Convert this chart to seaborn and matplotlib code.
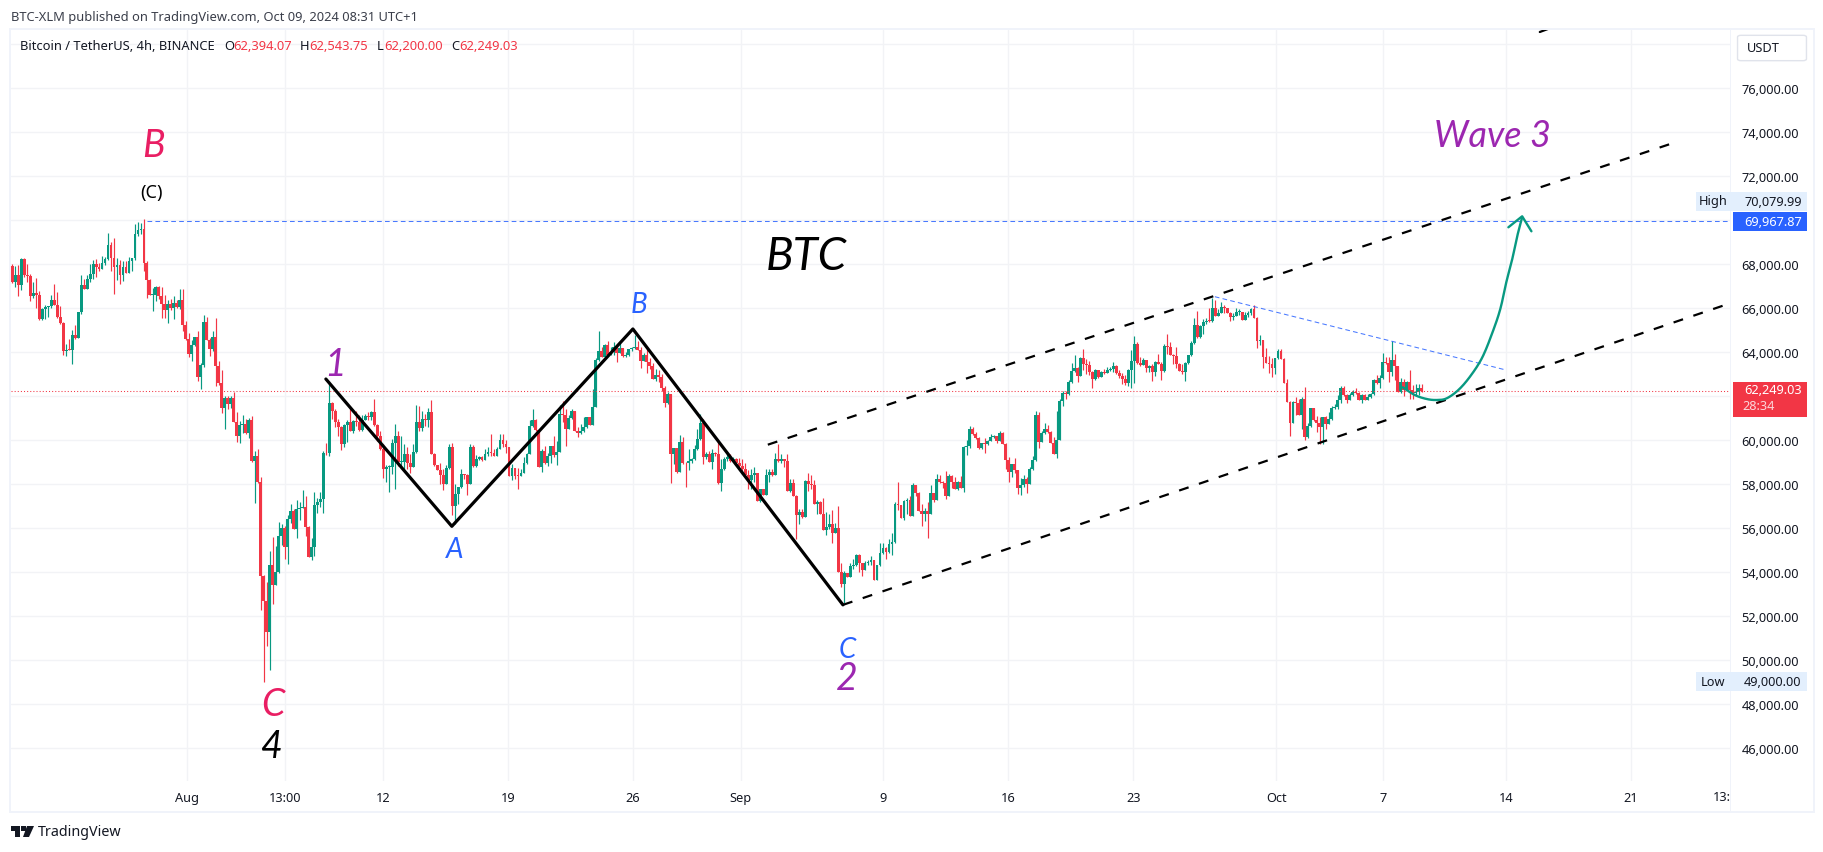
import numpy as np
import pandas as pd
import matplotlib
matplotlib.use("Agg")
import matplotlib.pyplot as plt
from matplotlib.patches import Rectangle, FancyBboxPatch, Polygon
import seaborn as sns

# ---------- values (USD / 10) ----------
first_open = 6793
closes = [
 6720,6752,6708,6824,6752,6749,6658,6670,6661,6552, 6597,6606,6609,6638,6614,6561,6534,6406,6412,6411,
 6479,6465,6584,6706,6688,6734,6756,6802,6788,6779, 6806,6824,6888,6829,6788,6797,6752,6788,6761,6815,
 6829,6938,6956,6961,6806,6729,6661,6661,6697,6656, 6620,6593,6620,6602,6624,6606,6638,6524,6461,6393,
 6434,6470,6288,6343,6538,6456,6415,6470,6338,6261, 6147,6193,6165,6193,6084,6020,6070,6075,6034,6093,
 5906,5929,5811,5384,5269,5129,5434,5343,5400,5565, 5602,5516,5643,5679,5597,5688,5693,5697,5606,5470,
 5516,5706,5720,5734,5943,5940,6170,6135,6082,6062, 5981,6070,6084,6043,6087,6082,6047,6093,6109,6105,
 6129,6070,6018,5961,5870,5878,5880,5988,6020,5900, 5903,5938,5897,5879,5947,6084,6056,6097,6093,6129,
 5938,5887,5865,5844,5802,5874,5970,5702,5756,5788, 5847,5843,5802,5970,5884,5915,5924,5911,5938,5947,
 5943,5929,5961,6002,5984,5968,5838,5874,5838,5836, 5853,5897,5938,6065,6093,6047,5879,5952,5897,5929,
 5974,5934,5947,6120,6115,6052,6102,6134,6043,6032, 6043,6061,6106,6070,6152,6364,6406,6379,6432,6388,
 6400,6424,6397,6420,6383,6388,6415,6418,6424,6411, 6362,6388,6356,6336,6279,6297,6288,6238,6170,6211,
 5938,5965,5856,5992,5897,5895,5906,5915,5961,6006, 6079,5924,5938,5902,5942,5938,5806,5870,5915,5923,
 5906,5915,5897,5883,5870,5843,5820,5843,5852,5724, 5779,5752,5843,5856,5841,5915,5906,5914,5906,5770,
 5806,5747,5661,5674,5652,5815,5802,5797,5711,5720, 5665,5593,5606,5620,5579,5602,5403,5347,5397,5379,
 5429,5434,5479,5443,5411,5443,5447,5455,5365,5434, 5488,5511,5493,5529,5538,5711,5705,5647,5724,5727,
 5656,5797,5761,5679,5665,5679,5665,5761,5729,5824, 5811,5806,5747,5838,5811,5779,5811,5783,5970,5974,
 6052,6029,6011,5965,5988,5983,5997,6015,6020,5997, 6033,5983,5911,5856,5893,5865,5783,5797,5824,5802,
 5870,5911,6115,5993,6033,6052,6038,5988,5938,6003, 6179,6215,6211,6265,6315,6329,6293,6374,6347,6343,
 6309,6279,6320,6288,6311,6306,6320,6324,6338,6306, 6293,6279,6261,6320,6361,6438,6352,6343,6365,6329,
 6336,6311,6356,6347,6315,6429,6424,6388,6383,6347, 6315,6312,6352,6388,6443,6524,6468,6520,6538,6543,
 6541,6602,6565,6579,6606,6600,6580,6561,6565,6582, 6583,6547,6570,6579,6597,6556,6452,6456,6379,6352,
 6347,6329,6374,6406,6371,6261,6174,6079,6174,6170, 6115,6188,6015,6065,6147,6093,6079,6061,6106,6074,
 6097,6147,6150,6183,6238,6206,6183,6206,6220,6215, 6183,6206,6183,6197,6211,6274,6261,6283,6356,6352,
 6311,6365,6338,6220,6265,6229,6265,6229,6215,6218, 6239,6225]
highs = [
 6802,6793,6797,6829,6829,6802,6756,6718,6738,6678, 6600,6615,6609,6661,6711,6674,6611,6538,6438,6461,
 6502,6524,6584,6752,6734,6752,6802,6820,6824,6806, 6838,6834,6943,6902,6920,6829,6820,6815,6814,6835,
 6829,6984,6993,6988,7008,6815,6734,6693,6702,6702, 6697,6661,6638,6643,6656,6638,6688,6688,6541,6488,
 6456,6470,6497,6352,6570,6561,6465,6497,6556,6361, 6320,6202,6202,6202,6220,6129,6088,6115,6097,6102,
 6111,5952,5961,5834,5388,5355,5497,5561,5520,5629, 5620,5611,5661,5711,5688,5729,5720,5775,5747,5611,
 5556,5765,5738,5765,5952,5988,6271,6176,6140,6097, 6067,6074,6093,6152,6090,6134,6115,6114,6118,6127,
 6134,6188,6074,6040,5984,5888,5888,6006,6074,6043, 6018,5984,5968,5938,5984,6161,6156,6134,6120,6147,
 6184,5943,5888,5897,5870,5888,5984,5988,5802,5788, 5870,5847,5847,5984,5979,5934,5929,5929,5961,5970,
 6029,5961,5970,6029,6029,6002,5970,5893,5874,5873, 5870,5924,5943,6093,6143,6097,6052,5961,5974,5943,
 5974,6020,5997,6161,6179,6143,6115,6143,6134,6061, 6074,6106,6106,6106,6234,6373,6497,6424,6438,6452,
 6423,6447,6433,6442,6420,6402,6415,6424,6479,6452, 6424,6397,6415,6374,6352,6324,6320,6302,6247,6220,
 6211,5965,5965,6024,6015,5902,5961,5920,5979,6052, 6120,6097,5947,5952,5961,5945,5997,5915,5924,5946,
 5938,5924,5920,5920,5915,5897,5865,5870,5879,5852, 5779,5779,5870,5870,5870,5942,5983,5938,5915,5938,
 5824,5824,5752,5688,5688,5820,5852,5843,5820,5729, 5724,5738,5673,5665,5683,5624,5702,5443,5406,5397,
 5443,5461,5484,5484,5443,5452,5456,5474,5455,5434, 5533,5533,5515,5552,5579,5720,5811,5706,5729,5738,
 5747,5806,5797,5765,5711,5693,5720,5797,5761,5847, 5843,5814,5861,5847,5843,5833,5815,5838,5974,6002,
 6065,6061,6038,6015,5988,6011,6003,6029,6024,6020, 6043,6038,5988,5924,5893,5920,5865,5829,5843,5833,
 5879,5929,6133,6129,6043,6079,6070,6043,6015,6133, 6188,6224,6226,6274,6352,6388,6333,6379,6415,6370,
 6361,6315,6324,6320,6317,6324,6333,6333,6356,6343, 6320,6306,6297,6324,6411,6474,6447,6377,6374,6365,
 6343,6347,6361,6393,6356,6438,6483,6447,6393,6424, 6352,6347,6356,6388,6452,6556,6588,6524,6552,6556,
 6602,6647,6638,6597,6629,6615,6583,6583,6579,6602, 6597,6583,6583,6588,6600,6615,6561,6479,6456,6420,
 6385,6374,6374,6415,6414,6374,6279,6177,6179,6197, 6188,6197,6243,6079,6147,6147,6111,6106,6106,6111,
 6129,6156,6165,6206,6247,6247,6211,6215,6229,6238, 6220,6211,6211,6211,6215,6279,6297,6297,6397,6377,
 6379,6452,6393,6338,6283,6279,6270,6320,6252,6256, 6256,6254]
lows = [
 6717,6699,6658,6684,6741,6721,6631,6647,6602,6547, 6547,6550,6561,6600,6614,6556,6529,6388,6384,6411,
 6347,6461,6465,6574,6688,6688,6718,6734,6743,6768, 6779,6797,6820,6770,6665,6729,6711,6724,6761,6759,
 6771,6820,6929,6938,6768,6647,6661,6588,6634,6643, 6556,6556,6534,6590,6552,6602,6597,6497,6456,6379,
 6361,6429,6270,6234,6334,6456,6384,6406,6247,6252, 6125,6052,6143,6147,6084,5993,5988,6034,6029,6011,
 5902,5715,5806,5229,4900,5066,4956,5256,5343,5397, 5525,5459,5438,5625,5597,5556,5638,5693,5565,5470,
 5456,5475,5670,5697,5670,5931,5929,6097,6062,6020, 5958,5970,5991,6043,6032,6064,6043,6043,6090,6090,
 6090,6067,5999,5956,5829,5809,5767,5847,5779,5882, 5882,5870,5870,5852,5879,5943,6043,6043,6067,6061,
 5938,5882,5865,5802,5774,5802,5870,5661,5620,5711, 5784,5824,5752,5802,5879,5879,5911,5906,5911,5929,
 5929,5929,5929,5961,5970,5943,5838,5820,5824,5779, 5838,5852,5893,5938,6061,6043,5879,5856,5893,5884,
 5897,5924,5888,5946,6082,5976,6052,6097,6043,6015, 6029,6037,6056,6070,6070,6152,6361,6379,6382,6388,
 6388,6388,6356,6397,6379,6379,6383,6406,6415,6411, 6329,6361,6306,6324,6279,6270,6264,6224,6152,6165,
 5806,5893,5850,5856,5893,5788,5865,5897,5911,5956, 6002,5893,5915,5902,5870,5927,5802,5770,5865,5906,
 5902,5906,5893,5879,5847,5843,5779,5779,5809,5724, 5720,5752,5752,5811,5838,5843,5902,5897,5879,5770,
 5765,5747,5552,5620,5647,5652,5770,5779,5711,5665, 5665,5593,5570,5597,5533,5579,5403,5331,5261,5379,
 5379,5415,5429,5402,5384,5411,5434,5434,5365,5365, 5429,5484,5461,5488,5479,5533,5684,5647,5638,5665,
 5656,5656,5747,5679,5611,5633,5556,5665,5720,5729, 5806,5783,5733,5747,5783,5779,5774,5783,5765,5933,
 5965,6024,6006,5961,5961,5943,5979,5997,6011,5988, 5997,5983,5870,5811,5833,5852,5756,5752,5788,5761,
 5802,5865,5906,5965,5993,6029,6033,5988,5938,5920, 6002,6156,6188,6206,6261,6309,6265,6293,6320,6302,
 6297,6238,6274,6283,6288,6302,6306,6315,6309,6302, 6283,6256,6252,6247,6238,6261,6347,6338,6343,6311,
 6309,6270,6293,6347,6274,6311,6393,6388,6347,6329, 6315,6302,6270,6347,6383,6438,6465,6465,6483,6529,
 6538,6538,6565,6565,6579,6579,6579,6544,6547,6565, 6570,6547,6547,6561,6570,6556,6420,6433,6329,6352,
 6306,6288,6302,6370,6371,6261,6174,6020,6079,6115, 6115,6052,6002,6011,6061,6088,6038,5983,5983,6052,
 6074,6093,6143,6143,6170,6202,6170,6183,6203,6211, 6183,6170,6183,6183,6193,6206,6256,6236,6279,6347,
 6265,6291,6273,6220,6215,6202,6233,6188,6188,6206, 6206,6220]

zigzag_x = [104.8, 146.9, 207.4, 277.6]
zigzag_y = [62786, 56090, 65060, 52520]
upper_x = [252.5, 555.1]
upper_y = [59800, 73514]
lower_x = [277.6, 572.4]
lower_y = [52520, 66150]
far_x = [510.5, 513.2]
far_y = [78559, 78695]
trend_x = [401.9, 499.2]
trend_y = [66527, 63195]
curve_x = [464.7, 468.7, 472.7, 476.1, 479.4, 483.4, 487.4, 491.3, 494.7, 497.3, 499.3, 501.3, 503.0, 504.6]
curve_y = [62409, 62059, 61877, 61832, 61909, 62300, 62936, 63773, 64909, 65968, 67182, 68241, 69300, 70136]
head_x = [500.0, 504.6, 507.7]
head_y = [69682, 70182, 69500]
resistance = 69967.87
last_price = 62249.03
price_ticks = list(range(46000, 80000, 2000))
hidden_price_labels = [62000, 70000, 78000]
time_pos = [58.4, 91.1, 124.0, 165.8, 207.5, 243.4, 291.1, 332.9, 374.6, 422.5, 458.2, 499.2, 541.0]
time_lab = ["Aug", "13:00", "12", "19", "26", "Sep", "9", "16", "23", "Oct", "7", "14", "21"]
months = ["Aug", "Sep", "Oct"]

# ---------- table ----------
n = min(len(closes), len(highs), len(lows))
c = np.array(closes[:n], float) * 10
o = np.r_[first_open * 10.0, c[:-1]]
h = np.maximum(np.array(highs[:n], float) * 10, np.maximum(o, c))
l = np.minimum(np.array(lows[:n], float) * 10, np.minimum(o, c))
df = pd.DataFrame({"i": np.arange(n), "open": o, "close": c, "high": h, "low": l})
df["base"] = df[["open", "close"]].min(axis=1)
df["body"] = (df["close"] - df["open"]).abs().clip(lower=40)
df["up"] = df["close"] >= df["open"]

RED, GREEN, BLUE, PURPLE, PINK = "#F23645", "#089981", "#2962FF", "#9C27B0", "#E91E63"
INK, GRID, FRAME, AXTXT = "#131722", "#F2F3F6", "#F0F3FA", "#131722"

sns.set_theme(style="white")
plt.rcParams["font.family"] = ["Noto Sans", "DejaVu Sans"]
W, H = 1824, 853
fig = plt.figure(figsize=(W / 100, H / 100), dpi=100, facecolor="white")
L, R, T, B = 10.7, 1731, 31, 781.7
ax = fig.add_axes([L / W, 1 - B / H, (R - L) / W, (B - T) / H], facecolor="white")

def fx(x): return x / W
def fy(y): return 1 - y / H

for up, col in [(True, GREEN), (False, RED)]:
    sub = df[df["up"] == up]
    sns.barplot(data=sub, x="i", y="body", bottom=sub["base"].values, color=col, saturation=1,
                native_scale=True, errorbar=None, width=0.96, linewidth=0, ax=ax, zorder=3)
    ax.vlines(sub["i"], sub["low"], sub["high"], color=col, lw=0.85, zorder=3)

def line(xs, ys, **kw):
    frame = pd.DataFrame({"x": xs, "y": ys})
    sns.lineplot(data=frame, x="x", y="y", sort=False, estimator=None, errorbar=None, ax=ax, legend=False, **kw)

def smooth(xs, ys, steps=12):
    p = np.c_[xs, ys].astype(float)
    p = np.vstack([2 * p[0] - p[1], p, 2 * p[-1] - p[-2]])
    out = []
    for k in range(1, len(p) - 2):
        for t in np.linspace(0, 1, steps, endpoint=False):
            out.append(0.5 * (2 * p[k] + (p[k + 1] - p[k - 1]) * t
                              + (2 * p[k - 1] - 5 * p[k] + 4 * p[k + 1] - p[k + 2]) * t ** 2
                              + (3 * p[k] - p[k - 1] - 3 * p[k + 1] + p[k + 2]) * t ** 3))
    out.append(p[-2])
    out = np.array(out)
    return out[:, 0], out[:, 1]

ax.axhline(last_price, color=RED, lw=0.75, ls=(0, (1, 2)), zorder=4)
blue_dash = (0, (4.5, 3.1))
ax.hlines(resistance, 45.0, 574.4, color=BLUE, lw=0.75, ls=blue_dash, alpha=0.85, zorder=4)
line(trend_x, trend_y, color=BLUE, lw=0.75, linestyle=blue_dash, alpha=0.85, zorder=4)
dash = (0, (4.5, 4.9))
line(upper_x, upper_y, color="black", lw=1.6, linestyle=dash, zorder=5)
line(lower_x, lower_y, color="black", lw=1.6, linestyle=dash, zorder=5)
line(far_x, far_y, color="black", lw=1.6, zorder=5)
line(zigzag_x, zigzag_y, color="black", lw=2.3, zorder=6)
sx, sy = smooth(curve_x, curve_y)
line(sx, sy, color=GREEN, lw=1.7, zorder=6)
line(head_x, head_y, color=GREEN, lw=1.7, zorder=6)

ax.set_xlim(-0.53, 574.4)
ax.set_ylim(44527, 78650)
ax.set_xlabel(""); ax.set_ylabel("")
ax.set_xticks(time_pos, time_lab)
ax.yaxis.tick_right()
ax.set_yticks(price_ticks, ["" if p in hidden_price_labels else f"{p:,.2f}" for p in price_ticks])
ax.tick_params(axis="x", length=0, pad=7.5, labelsize=9.2, colors=AXTXT)
ax.tick_params(axis="y", length=0, pad=7.5, labelsize=9.2, colors=AXTXT)
for t in ax.get_xticklabels():
    if t.get_text() in months:
        t.set_fontweight("bold")
ax.grid(True, color=GRID, lw=1.0, zorder=0)
ax.set_axisbelow(True)
for s in ax.spines.values():
    s.set_visible(False)

# pane frame and price-axis border
for x0, y0, x1, y1 in [(9, 28.5, 1815, 30.5), (9, 812, 1815, 814), (9, 28.5, 11, 814), (1813, 28.5, 1815, 814), (1730.5, 30, 1731.5, 812)]:
    fig.add_artist(Rectangle((fx(x0), fy(y1)), (x1 - x0) / W, (y1 - y0) / H, transform=fig.transFigure, fc=FRAME, ec="none", zorder=1))

def box(x0, y0, x1, y1, col):
    fig.add_artist(Rectangle((fx(x0), fy(y1)), (x1 - x0) / W, (y1 - y0) / H, transform=fig.transFigure, fc=col, ec="none", zorder=7))

def txt(x, y, s, size=9.2, color=INK, ha="center", family=None, **kw):
    fig.text(fx(x), fy(y), s, fontsize=size, color=color, ha=ha, va="center", zorder=9,
             family=family or ["Noto Sans", "DejaVu Sans"], **kw)

box(1696, 193, 1807, 212, "#E3EFFD")
box(1733, 213, 1807, 232, BLUE)
box(1733, 383, 1807, 418, RED)
box(1696, 673, 1807, 692, "#E3EFFD")
txt(1713, 202, "High")
txt(1773, 202, "70,079.99")
txt(1773, 222, "69,967.87", color="white", fontweight="bold")
txt(1773, 391, "62,249.03", color="white", fontweight="bold")
txt(1742, 407, "28:34", color="#FBD5D9", ha="left")
txt(1713, 683, "Low")
txt(1773, 683, "49,000.00")
txt(1722, 798, "13:")
fig.add_artist(FancyBboxPatch((fx(1739), fy(61)), 66 / W, 24 / H, boxstyle="round,pad=0.0008,rounding_size=0.002",
                              transform=fig.transFigure, fc="white", ec="#E0E3EB", lw=1.0, zorder=7))
txt(1747, 49, "USDT", ha="left")

# header
txt(11, 17, "BTC-XLM published on TradingView.com, Oct 09, 2024 08:31 UTC+1", size=9.3, color="#3A3E4A", ha="left")
txt(20, 47, "Bitcoin / TetherUS, 4h, BINANCE", size=9.3, ha="left")
for xl, lab, xv, val in [(224, "O", 233, "62,394.07"), (300, "H", 309, "62,543.75"), (377, "L", 384, "62,200.00"), (451, "C", 459, "62,249.03")]:
    txt(xl, 47, lab, size=9.3, ha="left")
    txt(xv, 47, val, size=9.3, color=RED, ha="left")

# wave labels
LAB = ["Lato", "Liberation Sans", "DejaVu Sans"]
it = dict(family=LAB, style="italic")
txt(153, 146, "B", size=27, color=PINK, **it)
txt(151.5, 193, "(C)", size=13, color="black")
txt(335, 365, "1", size=27, color=PURPLE, **it)
txt(273, 705, "C", size=27, color=PINK, **it)
txt(272, 747, "4", size=27, color="black", **it)
txt(455, 550, "A", size=20, color=BLUE, **it)
txt(639, 305, "B", size=20, color=BLUE, **it)
txt(847.5, 650, "C", size=20, color=BLUE, **it)
txt(847, 679, "2", size=27, color=PURPLE, **it)
txt(806, 257, "BTC", size=33, color="black", **it)
txt(1492, 137, "Wave 3", size=26, color=PURPLE, **it)

# footer logo and word mark
fig.add_artist(Polygon([(fx(11), fy(827)), (fx(20), fy(827)), (fx(20), fy(838)), (fx(15.5), fy(838)), (fx(15.5), fy(831.5)), (fx(11), fy(831.5))],
                       closed=True, transform=fig.transFigure, fc=INK, ec="none"))
fig.add_artist(Polygon([(fx(27), fy(827)), (fx(34), fy(827)), (fx(29), fy(838)), (fx(23), fy(838))],
                       closed=True, transform=fig.transFigure, fc=INK, ec="none"))
fig.add_artist(Polygon([(fx(21.5), fy(827)), (fx(26), fy(827)), (fx(26), fy(831.5)), (fx(21.5), fy(831.5))],
                       closed=True, transform=fig.transFigure, fc=INK, ec="none"))
txt(38, 833, "TradingView", size=10.3, ha="left")

fig.savefig("out.png", dpi=100, facecolor="white")
